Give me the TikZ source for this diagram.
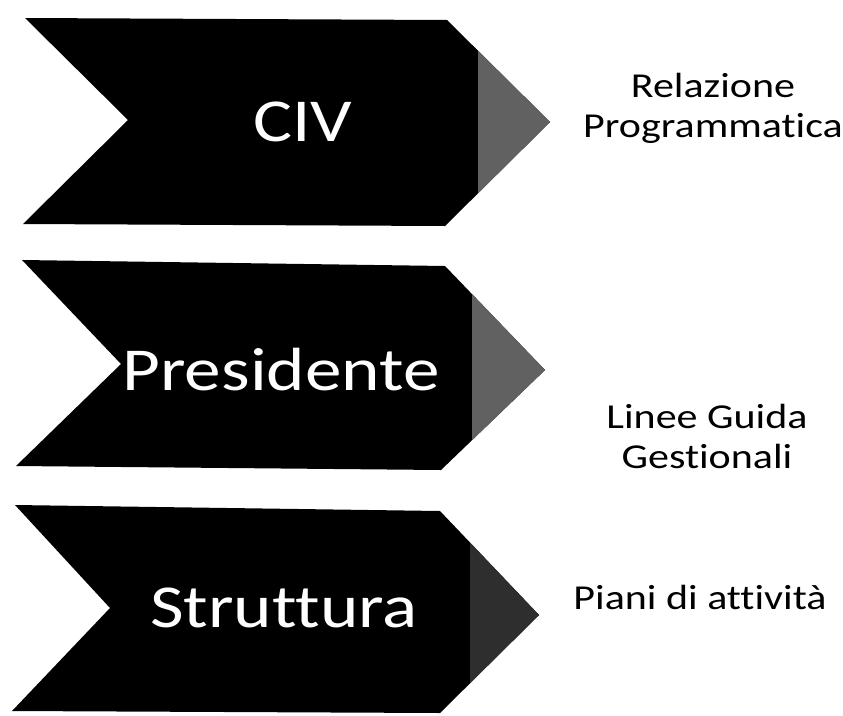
\documentclass[tikz,border=0pt]{standalone}
\usepackage{fontspec}
\setmainfont{Carlito}[Ligatures=NoCommon]
\usepackage{tikz}
\usetikzlibrary{calc}

\begin{document}
\begin{tikzpicture}[x=1pt, y=-1pt]
	\tikzstyle{stagetext}=[
	text=white,
	font=\fontsize{61}{61}\selectfont,
	xscale=1.2,
	inner sep=0pt
	]
	\tikzstyle{outtext}=[
	text=black,
	font=\fontsize{35}{40}\selectfont,
	xscale=1.2,
	align=center,
	inner sep=0pt
	]
	\useasboundingbox (0,0) rectangle (843,715);
	% CIV
	\begin{scope}
		\path[clip] (25,18) -- (447,20) -- (550,122) -- (445,226) -- (23,224) -- (128,120) -- cycle;
		\fill[black] (0,0) rectangle (843,240);
		\fill[black!62] (478,0) rectangle (560,240);
	\end{scope}
	% Presidente
	\begin{scope}
		\path[clip] (22,260) -- (445,266) -- (545,370) -- (441,470) -- (16,466) -- (121,364) -- cycle;
		\fill[black] (0,240) rectangle (843,480);
		\fill[black!62] (472,240) rectangle (560,480);
	\end{scope}
	% Struttura
	\begin{scope}
		\path[clip] (15,505) -- (440,511) -- (539,615) -- (440,713) -- (12,711) -- (110,608) -- cycle;
		\fill[black] (0,480) rectangle (843,715);
		\fill[black!82] (470,480) rectangle (560,715);
	\end{scope}
	\node[stagetext] (civ) at (303,122) {CIV};
	\node[stagetext] (pres) at (281,370) {Presidente};
	\node[stagetext] (strutt) at (284,608) {Struttura};
	\node[outtext] (relaz) at (713,108) {Relazione\\Programmatica};
	\node[outtext] (linee) at (707,436) {Linee Guida\\Gestionali};
	\node[outtext] (piani) at (700,597) {Piani di attività};
\end{tikzpicture}
\end{document}
